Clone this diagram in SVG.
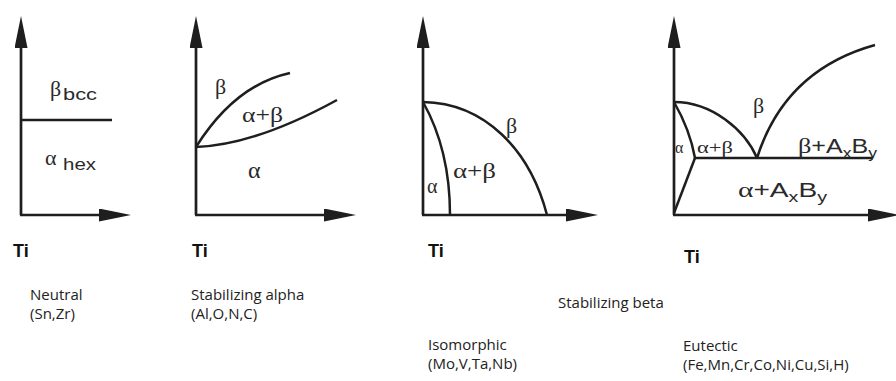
<svg xmlns="http://www.w3.org/2000/svg" width="896" height="381" viewBox="0 0 896 381">
<style>
.ax{stroke:#1e1e1e;stroke-width:2.7;fill:none}
.ln{stroke:#1e1e1e;stroke-width:2.5;fill:none}
.gr{font-family:"Liberation Serif","DejaVu Serif",serif;fill:#2a2a2a}
.sn{font-family:"Liberation Sans",Arial,sans-serif;fill:#2a2a2a}
.ti{font-family:"Liberation Sans",Arial,sans-serif;font-weight:bold;font-size:18px;fill:#111}
.cap{font-family:"Open Sans","Noto Sans",sans-serif;font-size:15px;fill:#222}
</style>
<defs>
<marker id="arr" markerUnits="userSpaceOnUse" markerWidth="32" markerHeight="14" refX="22" refY="6.5" orient="auto">
<path d="M0,0 L32,6.5 L0,13 z" fill="#1e1e1e"/>
</marker>
</defs>

<g id="neutral">
<line class="ax" x1="21" y1="215" x2="21" y2="26" marker-end="url(#arr)"/>
<line class="ax" x1="20" y1="215" x2="121" y2="215" marker-end="url(#arr)"/>
<line class="ln" x1="21" y1="120" x2="112" y2="120"/>
<text class="gr" x="50" y="96" font-size="22">β</text>
<text class="sn" x="63" y="100" font-size="17" textLength="34" lengthAdjust="spacingAndGlyphs">bcc</text>
<text class="gr" x="45" y="165" font-size="22">α</text>
<text class="sn" x="63" y="170" font-size="17" textLength="33" lengthAdjust="spacingAndGlyphs">hex</text>
<text class="ti" x="13" y="257">Ti</text>
<text class="cap" x="30" y="300">Neutral</text>
<text class="cap" x="30" y="319">(Sn,Zr)</text>
</g>

<g id="alpha">
<line class="ax" x1="196" y1="215" x2="196" y2="26" marker-end="url(#arr)"/>
<line class="ax" x1="195" y1="215" x2="346" y2="215" marker-end="url(#arr)"/>
<path class="ln" d="M196,147 Q235,85 290,73"/>
<path class="ln" d="M196,147 Q255,145 337,100"/>
<text class="gr" x="215" y="94" font-size="22">β</text>
<text class="gr" x="242" y="122" font-size="20" textLength="41" lengthAdjust="spacingAndGlyphs">α+β</text>
<text class="gr" x="248" y="178" font-size="24">α</text>
<text class="ti" x="192" y="257">Ti</text>
<text class="cap" x="191" y="300">Stabilizing alpha</text>
<text class="cap" x="191" y="319">(Al,O,N,C)</text>
</g>

<g id="isomorphic">
<line class="ax" x1="423" y1="215" x2="423" y2="26" marker-end="url(#arr)"/>
<line class="ax" x1="422" y1="215" x2="588" y2="215" marker-end="url(#arr)"/>
<path class="ln" d="M423,102 C485,103 530,150 547,215"/>
<path class="ln" d="M423,102 Q450,150 450,215"/>
<text class="gr" x="506" y="133" font-size="22">β</text>
<text class="gr" x="453" y="178" font-size="20" textLength="43" lengthAdjust="spacingAndGlyphs">α+β</text>
<text class="gr" x="427" y="193" font-size="20">α</text>
<text class="ti" x="428" y="257">Ti</text>
<text class="cap" x="428" y="350">Isomorphic</text>
<text class="cap" x="428" y="369">(Mo,V,Ta,Nb)</text>
</g>

<g id="eutectic">
<line class="ax" x1="674" y1="215" x2="674" y2="26" marker-end="url(#arr)"/>
<line class="ax" x1="673" y1="215" x2="890" y2="215" marker-end="url(#arr)"/>
<line class="ln" x1="695" y1="158" x2="873" y2="158"/>
<path class="ln" d="M674,102 Q690,130 695,158"/>
<path class="ln" d="M695,158 L674,213"/>
<path class="ln" d="M674,102 C712,102 745,130 757,158"/>
<path class="ln" d="M757,158 Q785,70 875,45"/>
<text class="gr" x="753" y="113" font-size="22">β</text>
<text class="gr" x="697" y="153" font-size="17" textLength="36" lengthAdjust="spacingAndGlyphs">α+β</text>
<text class="gr" x="675" y="153" font-size="16">α</text>
<text x="798" y="153" textLength="79" lengthAdjust="spacingAndGlyphs"><tspan class="gr" font-size="21">β</tspan><tspan class="sn" font-size="20">+A</tspan><tspan class="sn" font-size="14" dy="5">x</tspan><tspan class="sn" font-size="20" dy="-5">B</tspan><tspan class="sn" font-size="14" dy="5">y</tspan></text>
<text x="738" y="197" textLength="89" lengthAdjust="spacingAndGlyphs"><tspan class="gr" font-size="21">α</tspan><tspan class="sn" font-size="20">+A</tspan><tspan class="sn" font-size="14" dy="5">x</tspan><tspan class="sn" font-size="20" dy="-5">B</tspan><tspan class="sn" font-size="14" dy="5">y</tspan></text>
<text class="ti" x="684" y="263">Ti</text>
<text class="cap" x="683" y="351">Eutectic</text>
<text class="cap" x="683" y="370">(Fe,Mn,Cr,Co,Ni,Cu,Si,H)</text>
</g>

<g id="caption-beta">
<text class="cap" x="558" y="308">Stabilizing beta</text>
</g>
</svg>
